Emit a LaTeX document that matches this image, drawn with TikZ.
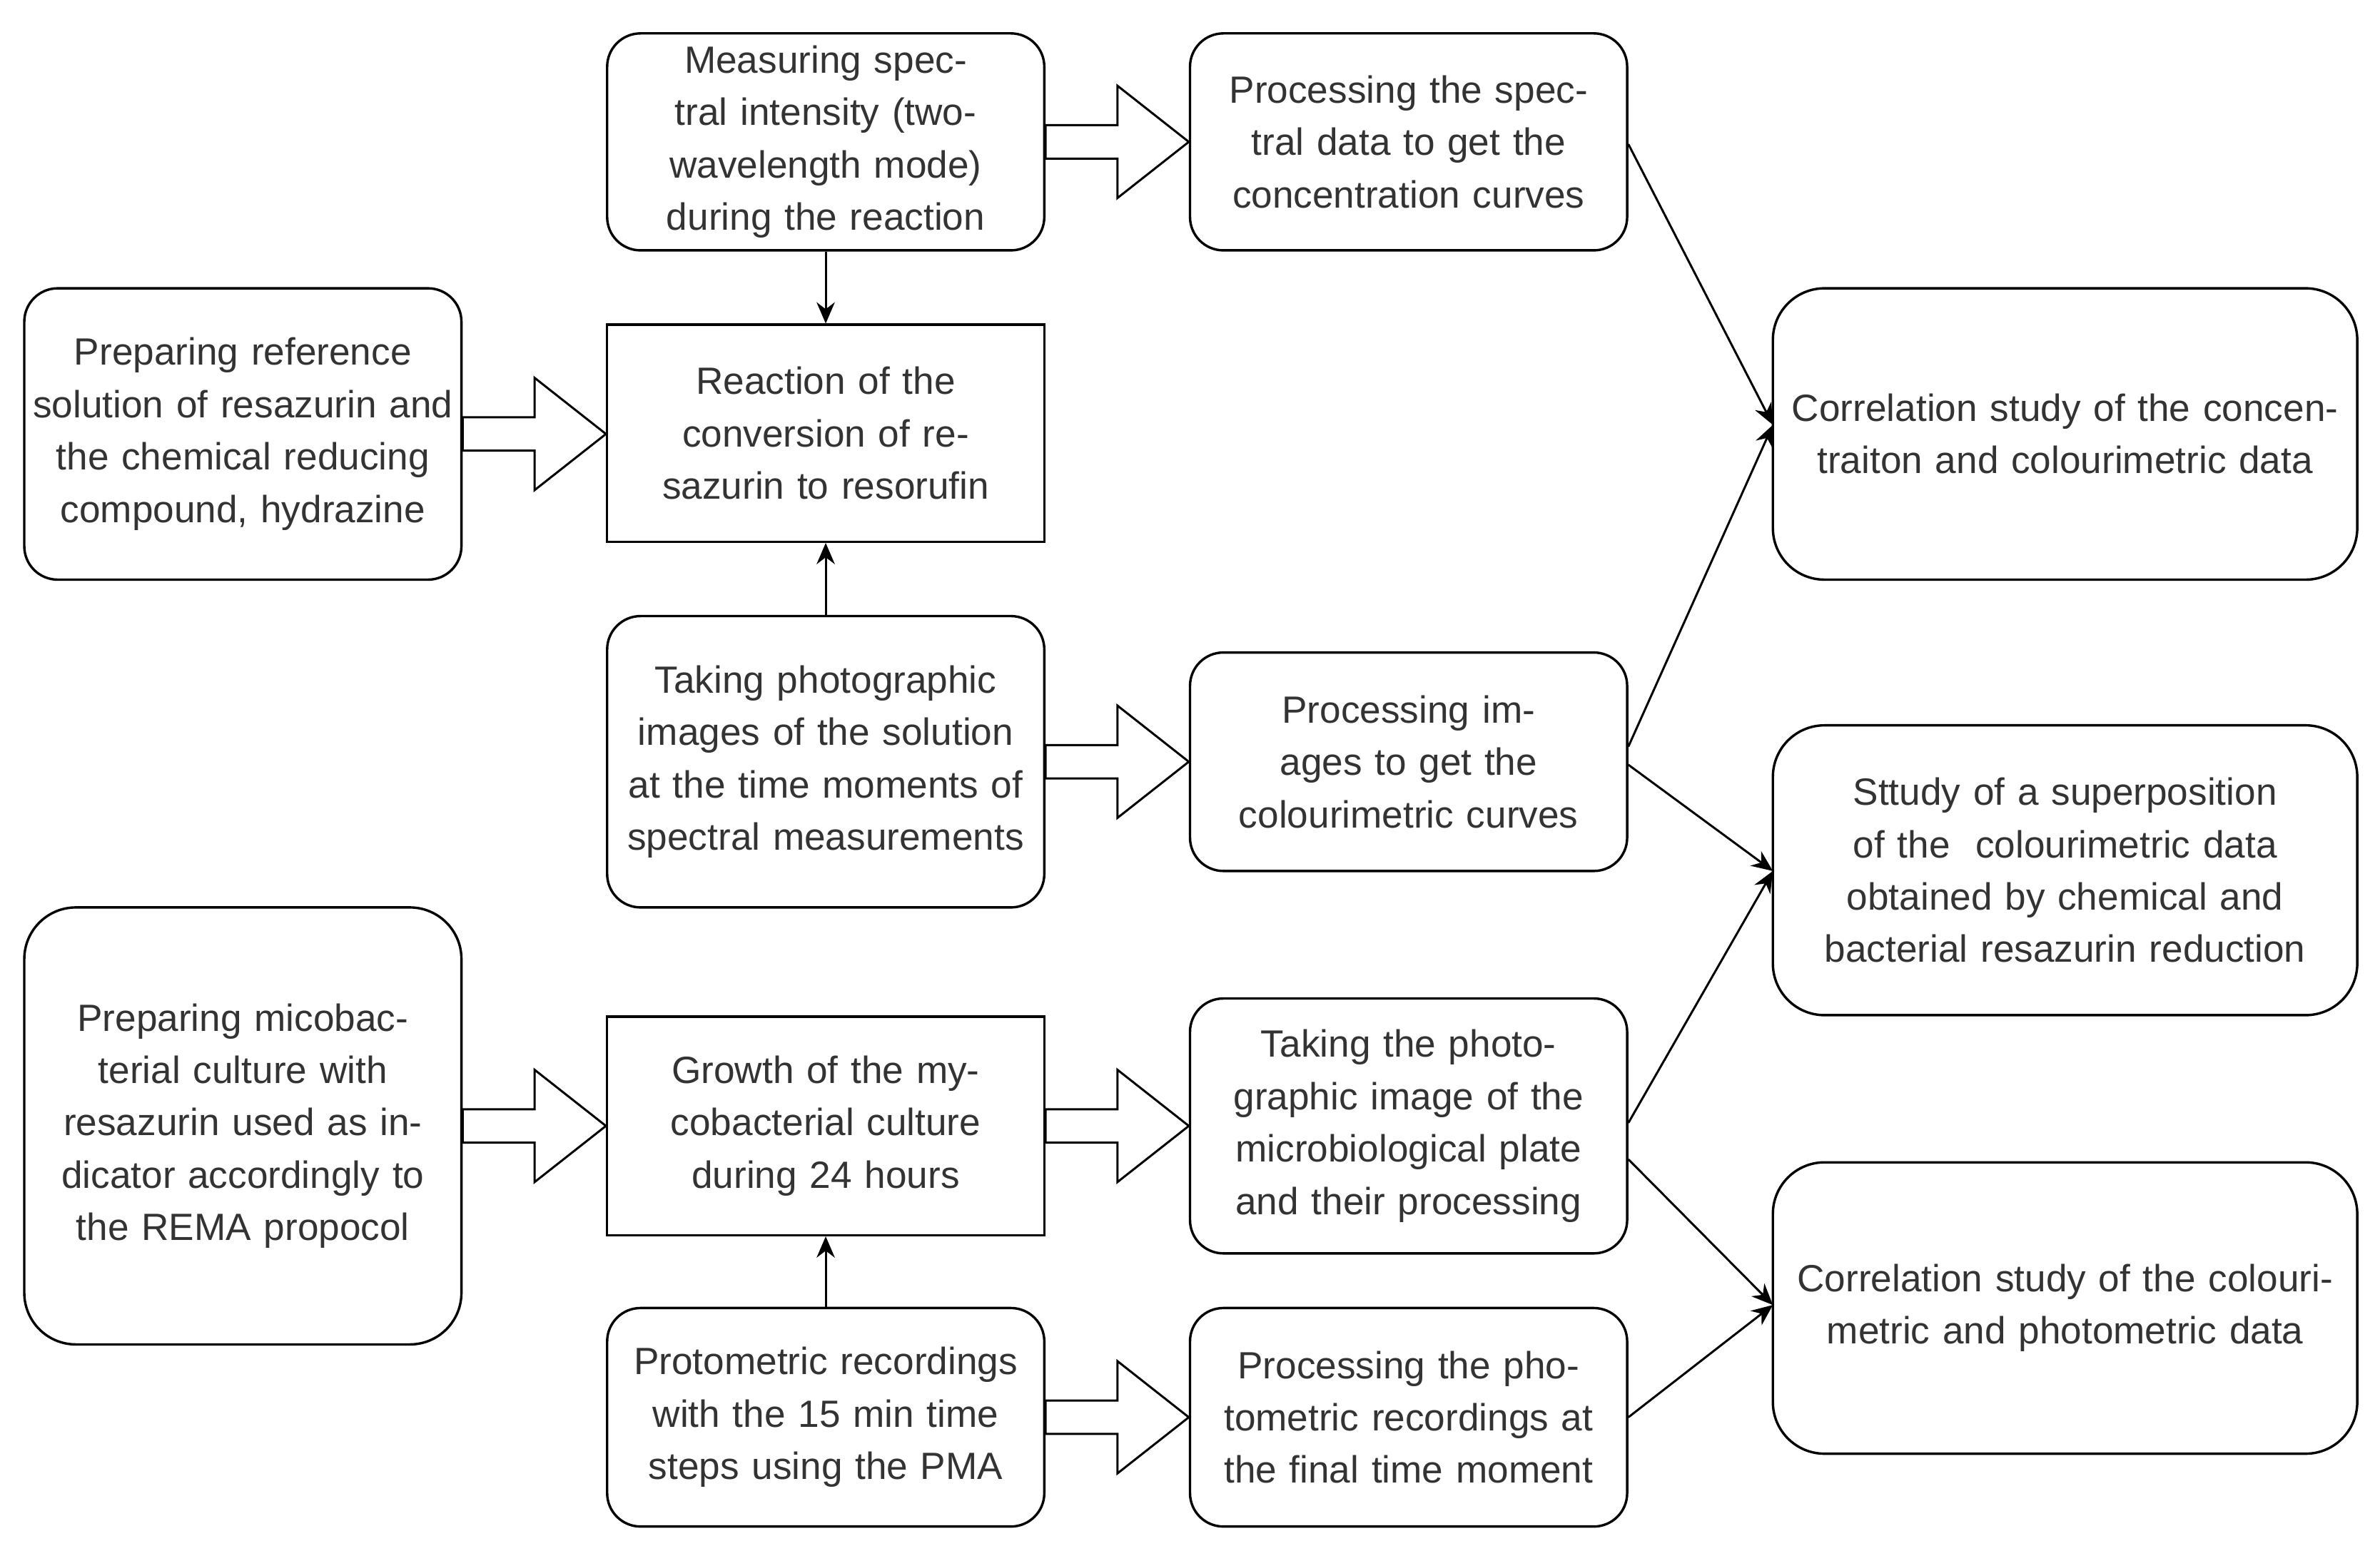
\documentclass[tikz,border=0pt]{standalone}
\usepackage{fontspec}
\setmainfont{Liberation Sans}
\usetikzlibrary{arrows.meta,calc}
\definecolor{txt}{HTML}{333333}
\tikzset{
 box/.style={draw=black,line width=1.6pt,rounded corners=22pt,align=center,inner sep=0pt,text=txt,font=\fontsize{25}{34.5}\selectfont},
 sq/.style={box,sharp corners},
 big/.style={box,rounded corners=34pt},
 ln/.style={line width=1.4pt,-{Stealth[length=14pt,width=12pt]}},
 blk/.style={draw=black,line width=1.4pt,fill=white,line join=miter}
}
\newcommand{\bx}[7]{\node[#6,minimum width={(#4-#2)*1pt},minimum height={(#5-#3)*1pt},text width={(#4-#2-6)*1pt}] (#1) at ({(#2+#4)/2},{(#3+#5)/2}) {#7};}
\newcommand{\blockarr}[2]{\path let \p1=(#1.east), \p2=(#2.west) in
 [blk] (\x1,\y1+11pt) -- (\x2-47pt,\y1+11pt) -- (\x2-47pt,\y1+37pt) -- (\x2,\y1) -- (\x2-47pt,\y1-37pt) -- (\x2-47pt,\y1-11pt) -- (\x1,\y1-11pt) -- cycle;}
\begin{document}
\begin{tikzpicture}[x=1pt,y=-1pt]
\useasboundingbox (0,0) rectangle (1568,1022);
\bx{A}{400}{22}{688}{165}{box}{Measuring spectral intensity (two-wavelength mode) during the reaction}
\bx{B}{784}{22}{1072}{165}{box}{Processing the spectral data to get the concentration curves}
\bx{C}{16}{190}{304}{382}{box}{Preparing reference solution of resazurin and the chemical reducing compound, hydrazine}
\bx{D}{400}{214}{688}{357}{sq}{Reaction of the conversion of resazurin to resorufin}
\bx{E}{1168}{190}{1553}{382}{big}{Correlation study of the concentraiton and colourimetric data}
\bx{F}{400}{406}{688}{598}{box}{Taking photographic images of the solution at the time moments of spectral measurements}
\bx{G}{784}{430}{1072}{574}{box}{Processing images to get the colourimetric curves}
\bx{H}{1168}{478}{1553}{669}{big}{Sttudy of a superposition of the\ \ colourimetric data obtained by chemical and bacterial resazurin reduction}
\bx{I}{16}{598}{304}{886}{big}{Preparing micobacterial culture with resazurin used as indicator accordingly to the REMA propocol}
\bx{J}{400}{670}{688}{814}{sq}{Growth of the mycobacterial culture during 24 hours}
\bx{K}{784}{658}{1072}{826}{box}{Taking the photographic image of the microbiological plate and their processing}
\bx{L}{1168}{766}{1553}{958}{big}{Correlation study of the colourimetric and photometric data}
\bx{M}{400}{862}{688}{1006}{box}{Protometric recordings with the 15 min time steps using the PMA}
\bx{N}{784}{862}{1072}{1006}{box}{Processing the photometric recordings at the final time moment}
\blockarr{A}{B}
\blockarr{C}{D}
\blockarr{F}{G}
\blockarr{I}{J}
\blockarr{J}{K}
\blockarr{M}{N}
\draw[ln] (A) -- (D);
\draw[ln] (F) -- (D);
\draw[ln] (M) -- (J);
\coordinate (e1) at (1168,280);
\coordinate (h1) at (1168,574);
\coordinate (l1) at (1168,860);
\draw[ln] (B.east |- 0,95) -- (e1);
\draw[ln] (G.east |- 0,492) -- (e1);
\draw[ln] (G.east |- 0,504) -- (h1);
\draw[ln] (K.east |- 0,740) -- (h1);
\draw[ln] (K.east |- 0,764) -- (l1);
\draw[ln] (N.east |- 0,934) -- (l1);
\end{tikzpicture}
\end{document}
